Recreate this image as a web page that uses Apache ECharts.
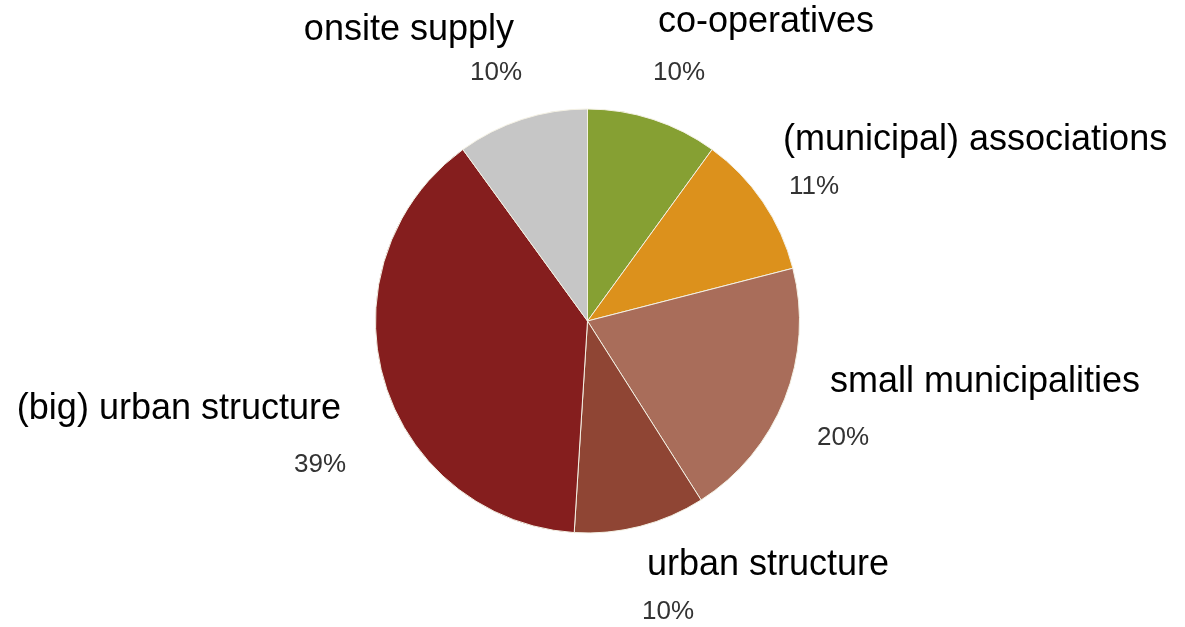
<!DOCTYPE html>
<html>
<head>
<meta charset="utf-8">
<script src="https://cdn.jsdelivr.net/npm/echarts@6/dist/echarts.min.js"></script>
<style>
html,body{margin:0;padding:0;background:#fff;}
#chart{width:1185px;height:627px;}
</style>
</head>
<body>
<div id="chart"></div>
<script>
// Data (clockwise from top)
var categories = ['co-operatives', '(municipal) associations', 'small municipalities', 'urban structure', '(big) urban structure', 'onsite supply'];
var shares = [10, 11, 20, 10, 39, 10];
var colors = ['#86a033', '#dc911c', '#a96d5a', '#8f4534', '#851e1e', '#c6c6c6'];

// Label layout (name labels and percent labels)
var nameLayout = [
  {x: 658, y: 22, align: 'left'},
  {x: 783, y: 140, align: 'left'},
  {x: 830, y: 382, align: 'left'},
  {x: 647, y: 565, align: 'left'},
  {x: 341, y: 409, align: 'right'},
  {x: 514, y: 30, align: 'right'}
];
var pctLayout = [
  {x: 653, y: 73, align: 'left'},
  {x: 789, y: 187, align: 'left'},
  {x: 817, y: 438, align: 'left'},
  {x: 642, y: 612, align: 'left'},
  {x: 346, y: 465, align: 'right'},
  {x: 522, y: 73, align: 'right'}
];

var data = categories.map(function (c, i) {
  return {name: c, value: shares[i], itemStyle: {color: colors[i]}};
});
var dataPct = categories.map(function (c, i) {
  return {name: c, value: shares[i]};
});

var chart = echarts.init(document.getElementById('chart'), null, {renderer: 'canvas'});
chart.setOption({
  animation: false,
  backgroundColor: '#ffffff',
  series: [
    {
      type: 'pie',
      center: [587.5, 321],
      radius: 212,
      startAngle: 90,
      clockwise: true,
      silent: true,
      data: data,
      itemStyle: {borderColor: '#f4f1e4', borderWidth: 1},
      label: {
        show: true,
        position: 'outside',
        alignTo: 'none',
        overflow: 'none',
        width: 600,
        formatter: '{b}',
        fontFamily: 'Liberation Sans, Arial, sans-serif',
        fontSize: 36,
        color: '#000000'
      },
      labelLine: {show: false},
      labelLayout: function (p) {
        var l = nameLayout[p.dataIndex];
        return {x: l.x, y: l.y, align: l.align, verticalAlign: 'middle'};
      }
    },
    {
      type: 'pie',
      center: [587.5, 321],
      radius: 212,
      startAngle: 90,
      clockwise: true,
      silent: true,
      data: dataPct,
      itemStyle: {color: 'rgba(0,0,0,0)', borderWidth: 0},
      label: {
        show: true,
        position: 'outside',
        alignTo: 'none',
        overflow: 'none',
        formatter: '{c}%',
        fontFamily: 'Liberation Sans, Arial, sans-serif',
        fontSize: 26,
        color: '#333333'
      },
      labelLine: {show: false},
      labelLayout: function (p) {
        var l = pctLayout[p.dataIndex];
        return {x: l.x, y: l.y, align: l.align, verticalAlign: 'middle'};
      }
    }
  ]
});
</script>
</body>
</html>
